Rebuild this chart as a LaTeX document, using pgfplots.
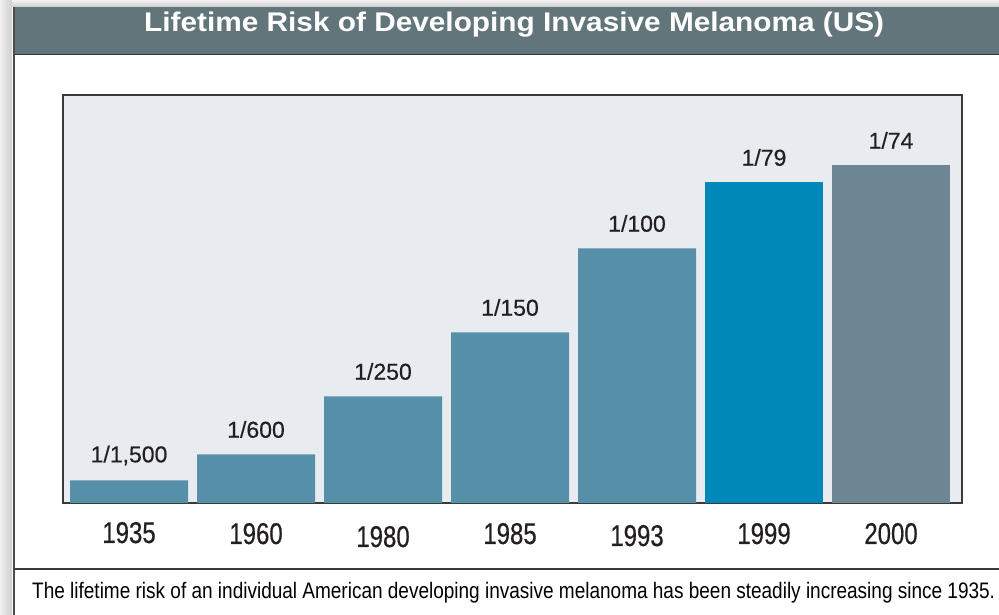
\documentclass[border=0pt]{standalone}
\usepackage{pgfplots}
\pgfplotsset{compat=1.18}
\usepackage{pgfplotstable}
\usepackage{graphicx}
\usepackage{fontspec}
\setmainfont{Liberation Sans}
\newfontfamily\condfont[FakeStretch=0.80]{Liberation Sans}
\newfontfamily\tickfont[FakeStretch=0.80, FakeBold=0.6]{Liberation Sans}
\newfontfamily\labfont[FakeBold=0.4]{Liberation Sans}
\definecolor{banner}{HTML}{62757A}
\definecolor{plotbg}{HTML}{E8ECF0}
\definecolor{barA}{HTML}{568FA8}
\definecolor{barB}{HTML}{0088B8}
\definecolor{barC}{HTML}{6C8693}
\definecolor{framecol}{HTML}{3A3A3A}
\definecolor{txt}{HTML}{231F20}

\pgfplotstableread{
x y label
0 22.5 1/1,500
1 48.5 1/600
2 106.5 1/250
3 170.5 1/150
4 254.5 1/100
}\tblA
\pgfplotstableread{
x y label
5 320.5 1/79
}\tblB
\pgfplotstableread{
x y label
6 337.5 1/74
}\tblC

\newlength\capw
\newlength\titw
\newcommand\captext{The lifetime risk of an individual American developing invasive melanoma has been steadily increasing since 1935.}
\newcommand\titletext{Lifetime Risk of Developing Invasive Melanoma (US)}

\begin{document}%
\settowidth\capw{\condfont\fontsize{22.4}{26}\selectfont\captext}%
\settowidth\titw{\bfseries\fontsize{27}{30}\selectfont\titletext}%
\pgfmathsetmacro\capsx{963/\capw}%
\pgfmathsetmacro\titsx{740/\titw}%
\begin{tikzpicture}[x=1pt,y=1pt]
\useasboundingbox (0,0) rectangle (999,615);
% shadows
\shade[left color=gray!12, right color=gray!38] (0,0) rectangle (12,615);
\shade[top color=gray!10, bottom color=gray!40] (12,608) rectangle (999,615);
% banner
\fill[banner] (14,561) rectangle (999,608);
\draw[framecol, line width=1.5pt] (14,560.5) -- (999,560.5);
% left border line
\draw[gray!60!black, line width=2pt] (13.5,0) -- (13.5,608);
% caption separator
\draw[framecol, line width=1.5pt] (14,46) -- (999,46);
% title
\node[anchor=base west, inner sep=0pt, text=white] at (144,583)
  {\scalebox{\titsx}[1]{\bfseries\fontsize{27}{30}\selectfont\titletext}};
% caption
\node[anchor=base west, inner sep=0pt, text=black] at (32,16)
  {\scalebox{\capsx}[1]{\condfont\fontsize{22.4}{26}\selectfont\captext}};

\begin{axis}[
  at={(63pt,112pt)}, anchor=south west,
  scale only axis, width=899pt, height=408pt,
  xmin=-0.52, xmax=6.559, ymin=0, ymax=408,
  axis background/.style={fill=plotbg},
  axis line style={draw=framecol, line width=1.5pt},
  xtick={0,...,6},
  xticklabels={\raisebox{1pt}{1935},1960,\raisebox{-3pt}{1980},1985,\raisebox{-2pt}{1993},1999,2000},
  xticklabel style={anchor=base, yshift=-41pt, inner sep=0pt, text=txt, font=\tickfont\fontsize{30}{32}\selectfont},
  ytick=\empty,
  major tick length=0pt,
  clip=false,
  point meta=explicit symbolic,
  nodes near coords,
  nodes near coords align={center},
  every node near coord/.append style={yshift=25pt, inner sep=0pt, text=txt, font=\labfont\fontsize{23}{25}\selectfont},
]
\addplot[ybar, bar width=118pt, bar shift=0pt, fill=barA, draw=none] table[x=x, y=y, meta=label] {\tblA};
\addplot[ybar, bar width=118pt, bar shift=0pt, fill=barB, draw=none] table[x=x, y=y, meta=label] {\tblB};
\addplot[ybar, bar width=118pt, bar shift=0pt, fill=barC, draw=none] table[x=x, y=y, meta=label] {\tblC};
\end{axis}
\end{tikzpicture}%
\end{document}
